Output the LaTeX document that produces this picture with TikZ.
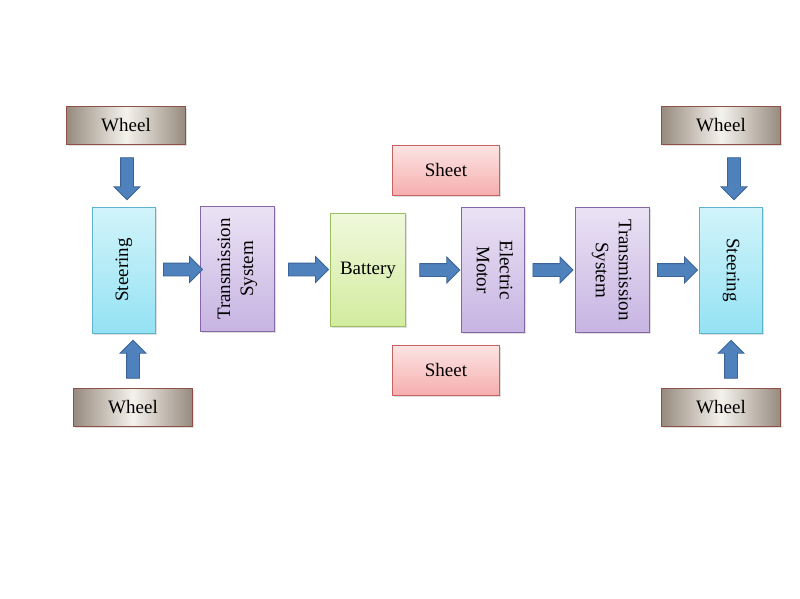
\documentclass[tikz,border=0pt]{standalone}
\usepackage{fontspec}
\setmainfont{Liberation Serif}
\usetikzlibrary{shapes.arrows,shadows,calc}
\definecolor{wheelD}{HTML}{978A7E}
\definecolor{wheelL}{HTML}{F4F2EC}
\definecolor{wheelB}{HTML}{8E5049}
\definecolor{steerT}{HTML}{D2F4FA}
\definecolor{steerB}{HTML}{94E2F4}
\definecolor{steerE}{HTML}{5CB3CB}
\definecolor{purT}{HTML}{EAE2F4}
\definecolor{purB}{HTML}{C7B4E2}
\definecolor{purE}{HTML}{8566A6}
\definecolor{batT}{HTML}{F0F8DC}
\definecolor{batB}{HTML}{D2EC9E}
\definecolor{batE}{HTML}{9DBE5C}
\definecolor{shT}{HTML}{FCE4E4}
\definecolor{shB}{HTML}{F6AEAE}
\definecolor{shE}{HTML}{C8625E}
\definecolor{arrF}{HTML}{4F81BD}
\definecolor{arrE}{HTML}{3A6495}
\tikzset{
  box/.style={rectangle, inner sep=0pt, line width=0.8pt, align=center,
    font=\fontsize{19}{23}\selectfont,
    drop shadow={shadow xshift=1.5pt, shadow yshift=-1.8pt, opacity=0.25}},
  wheelbox/.style={box, draw=wheelB, left color=wheelD, right color=wheelD, middle color=wheelL,
    minimum width=119pt, minimum height=38pt},
  steerbox/.style={box, draw=steerE, top color=steerT, bottom color=steerB,
    minimum width=63pt, minimum height=126pt},
  purbox/.style={box, draw=purE, top color=purT, bottom color=purB,
    minimum width=74pt, minimum height=125pt},
  batbox/.style={box, draw=batE, top color=batT, bottom color=batB,
    minimum width=75pt, minimum height=113pt},
  sheetbox/.style={box, draw=shE, top color=shT, bottom color=shB,
    minimum width=107pt, minimum height=50pt},
  barrow/.style={shape=single arrow, fill=arrF, draw=arrE, line width=0.8pt,
    inner sep=6pt, single arrow head extend=6.5pt, minimum height=40pt},
}
\newcommand{\twolines}[2]{\begin{tabular}{@{}c@{}}#1\\#2\end{tabular}}
\begin{document}
\begin{tikzpicture}[x=1pt,y=-1pt]
\useasboundingbox (0,0) rectangle (800,598);
% boxes
\node[wheelbox] (w1) at (126,125) {Wheel};
\node[wheelbox] (w2) at (133,407) {Wheel};
\node[wheelbox] (w3) at (721,125) {Wheel};
\node[wheelbox] (w4) at (721,407) {Wheel};
\node[steerbox] (st1) at (124,270) {\rotatebox{90}{Steering}};
\node[purbox] (tr1) at (237,269) {\rotatebox{90}{\twolines{Transmission}{System}}};
\node[batbox] (bat) at (368,270) {Battery};
\node[sheetbox] (sh1) at (446,170) {Sheet};
\node[sheetbox] (sh2) at (446,370) {Sheet};
\node[purbox, minimum width=63pt] (em) at (493,270) {\rotatebox{-90}{\twolines{Electric}{Motor}}};
\node[purbox] (tr2) at (612,270) {\rotatebox{-90}{\twolines{Transmission}{System}}};
\node[steerbox] (st2) at (731,270) {\rotatebox{-90}{Steering}};
% horizontal arrows
\node[barrow, minimum height=39pt] (a1) at ($(st1.east)!0.5!(tr1.west)+(2,0)$) {};
\node[barrow] (a2) at ($(tr1.east)!0.5!(bat.west)+(3,0)$) {};
\node[barrow] (a3) at ($(bat.east)!0.5!(em.west)+(3,0)$) {};
\node[barrow] (a4) at ($(em.east)!0.5!(tr2.west)$) {};
\node[barrow] (a5) at ($(tr2.east)!0.5!(st2.west)$) {};
% vertical arrows
\node[barrow, rotate=-90, minimum height=42pt] (v1) at ($(w1.south)!0.5!(st1.north)+(2,0)$) {};
\node[barrow, rotate=90, minimum height=38pt] (v2) at ($(w2.north)!0.5!(w2.north|-st1.south)+(0,2)$) {};
\node[barrow, rotate=-90, minimum height=42pt] (v3) at ($(st2.north)!0.5!(st2.north|-w3.south)+(3,0)$) {};
\node[barrow, rotate=90, minimum height=38pt] (v4) at ($(st2.south)!0.5!(st2.south|-w4.north)+(0,2)$) {};
\end{tikzpicture}
\end{document}
